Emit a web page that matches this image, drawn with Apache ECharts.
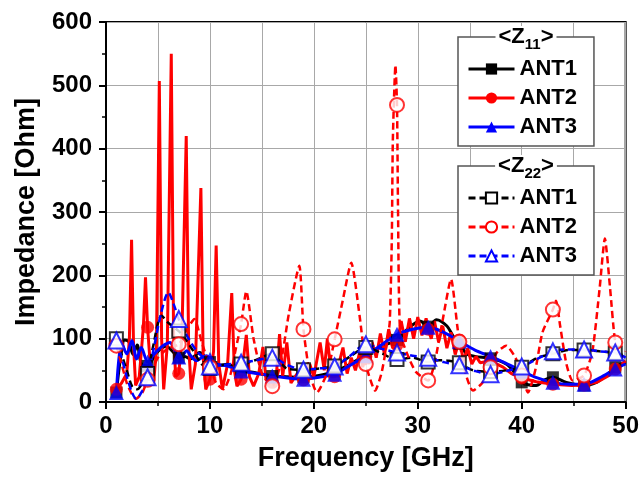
<!DOCTYPE html>
<html>
<head>
<meta charset="utf-8">
<script src="https://cdn.jsdelivr.net/npm/echarts@6/dist/echarts.min.js"></script>
<style>
  html, body { margin: 0; padding: 0; background: #fff; }
  #chart { width: 642px; height: 477px; }
</style>
</head>
<body>
<div id="chart"></div>
<script>
// marker frequencies (GHz), every 3 GHz
const markerX = [1, 4, 7, 10, 13, 16, 19, 22, 25, 28, 31, 34, 37, 40, 43, 46, 49]

// <Z11> curves [GHz, Ohm]
const z11Ant1 = [
  [1, 15], [1.4, 70], [1.8, 98], [2.2, 95], [2.6, 75], [3.0, 90], [3.4, 60], [4, 57], [4.5, 68],
  [5, 80], [5.8, 88], [6.4, 80], [7, 70], [7.6, 72], [8.1, 68], [9, 78], [10, 63], [11, 58],
  [12, 58], [13, 50], [14.5, 46], [16, 41], [17.4, 40], [19, 39], [20.5, 42], [22, 48],
  [23.5, 60], [25, 75], [26.5, 88], [28, 98], [29, 115], [30.2, 128], [31, 119], [31.8, 130],
  [32.8, 120], [33.4, 104], [34, 92], [34.7, 76], [35.5, 72], [37, 69], [38.5, 60], [39.4, 45],
  [40, 31], [41.4, 26], [42.2, 35], [43, 39], [44.3, 31], [46, 26], [47.2, 31], [48, 40],
  [49, 55], [50, 63],
]
const z11Ant2 = [
  [1, 20], [1.5, 30], [2, 45], [2.25, 100], [2.46, 256], [2.65, 90], [2.85, 26], [3.2, 40],
  [3.6, 120], [3.8, 197], [4, 118], [4.3, 50], [4.55, 26], [4.85, 80], [5.13, 507], [5.35, 100],
  [5.55, 20], [5.9, 90], [6.28, 550], [6.5, 110], [6.7, 40], [7, 45], [7.3, 100], [7.72, 420],
  [7.95, 90], [8.2, 20], [8.6, 60], [9.13, 338], [9.35, 70], [9.6, 20], [10, 36], [10.35, 80],
  [10.6, 247], [10.85, 60], [11.2, 20], [11.7, 60], [12.1, 172], [12.35, 50], [12.6, 25],
  [13, 36], [13.5, 106], [13.8, 40], [14.2, 25], [14.7, 45], [15.1, 87], [15.4, 35], [16, 31],
  [16.4, 45], [16.7, 107], [17, 40], [17.4, 94], [17.8, 30], [18.4, 45], [19, 35], [19.6, 60],
  [20, 40], [20.6, 94], [21, 50], [21.3, 100], [21.7, 40], [22, 40], [22.4, 60], [22.8, 86],
  [23.2, 45], [23.6, 70], [24, 50], [24.4, 78], [24.7, 55], [25, 72], [25.3, 60], [25.6, 95],
  [26, 70], [26.4, 108], [26.8, 75], [27.2, 115], [27.6, 85], [28, 90], [28.4, 128], [28.8, 95],
  [29.2, 132], [29.6, 100], [30, 134], [30.4, 105], [30.8, 132], [31, 115], [31.3, 100],
  [31.6, 128], [32, 95], [32.4, 120], [32.8, 85], [33.2, 110], [33.6, 75], [34, 98], [34.4, 65],
  [34.8, 85], [35.2, 60], [35.6, 72], [36, 62], [37, 65], [38.2, 55], [39, 45], [40, 38],
  [41.4, 32], [43, 28], [44.8, 26], [46, 27], [47.2, 31], [48.4, 42], [49, 52], [50, 65],
]
const z11Ant3 = [
  [1, 15], [1.5, 94], [2, 76], [2.5, 97], [2.95, 68], [3.4, 86], [4, 63], [4.6, 75], [5.2, 85],
  [5.7, 91], [6.15, 94], [6.6, 82], [7, 71], [7.4, 74], [7.75, 81], [8.2, 72], [8.7, 65],
  [9.2, 70], [9.7, 73], [10, 67], [10.6, 60], [11.6, 57], [13, 49], [14.5, 45], [16, 41],
  [17.5, 38], [19, 36], [20.5, 39], [22, 44], [23.5, 58], [25, 73], [26.5, 90], [28, 107],
  [29.5, 115], [31, 118], [32.5, 110], [34, 96], [35.5, 82], [37, 72], [38.5, 61], [40, 49],
  [41.5, 38], [43, 31], [44.5, 28], [46, 28], [47.5, 38], [49, 52], [50, 60],
]

// <Z22> curves [GHz, Ohm]
const z22Ant1 = [
  [1, 100], [1.5, 75], [2, 50], [2.5, 25], [3, 20], [3.5, 30], [4, 45], [4.5, 85], [5.35, 136],
  [6, 125], [7, 112], [7.6, 100], [8.5, 78], [9.2, 60], [10, 53], [11, 58], [12, 60], [13, 60],
  [14.5, 67], [16, 76], [16.8, 62], [17.5, 52], [19, 51], [20.5, 53], [22, 57], [23.5, 72],
  [25, 86], [26.5, 77], [28, 67], [29.5, 70], [31, 63], [32, 66], [33, 65], [34, 62], [35.3, 50],
  [37, 48], [38.5, 50], [40, 55], [41.5, 70], [43, 76], [44.5, 82], [46, 82], [47.5, 80],
  [49, 77], [50, 73],
]
const z22Ant2 = [
  [1, 89], [1.5, 60], [2, 30], [2.5, 12], [2.9, 5], [3.5, 15], [4, 35], [5, 70], [6, 85], [7, 91],
  [7.8, 115], [8.5, 131], [9.2, 95], [10, 55], [10.6, 30], [11.3, 20], [12, 45], [12.5, 85],
  [13, 123], [13.5, 175], [14.2, 100], [15, 45], [16, 25], [16.8, 60], [17.6, 140], [18.6, 215],
  [19, 115], [19.6, 45], [20.3, 15], [21.3, 47], [22, 99], [22.8, 162], [23.6, 220], [24.4, 136],
  [25, 60], [25.9, 18], [26.5, 45], [27, 90], [27.3, 126], [27.5, 257], [27.6, 414], [27.85, 532],
  [28, 469], [28.1, 300], [28.3, 110], [29, 75], [29.8, 48], [31, 34], [31.6, 60], [32.4, 130],
  [33.2, 194], [33.8, 120], [34, 95], [34.6, 45], [35.3, 18], [36.2, 30], [37, 55], [37.6, 78],
  [38.5, 89], [39.4, 70], [40, 42], [40.6, 15], [41.3, 50], [42, 110], [43, 146], [43.3, 160],
  [43.7, 120], [44.3, 60], [44.9, 34], [46, 42], [46.8, 80], [47.5, 180], [48, 258], [48.5, 180],
  [49, 94], [49.6, 70], [50, 80],
]
const z22Ant3 = [
  [1, 97], [1.5, 70], [2, 40], [2.5, 15], [2.9, 5], [3.5, 18], [4, 39], [4.6, 85], [5.3, 140],
  [6, 173], [6.5, 155], [7, 131], [7.6, 110], [8.7, 81], [9.7, 65], [10, 56], [11, 58], [12, 60],
  [13, 62], [14.2, 65], [16, 70], [17.5, 58], [19, 51], [20.5, 53], [22, 56], [23.5, 73],
  [25, 91], [26.5, 84], [28, 78], [29.5, 73], [31, 70], [32.5, 63], [34, 58], [35.5, 49],
  [37, 44], [38.5, 49], [40, 56], [41.5, 68], [43, 80], [44.5, 83], [46, 83], [47.5, 80],
  [49, 78], [50, 70],
]

const FONT = '"Liberation Sans", Arial, sans-serif'
const pick = (arr) => arr.filter((p) => markerX.includes(p[0]))

const lineSeries = (name, data, color, dashed, symbol, smooth) => ({
  name,
  type: 'line',
  data,
  smooth,
  symbol,
  symbolSize: 12,
  showSymbol: false,
  color,
  lineStyle: {
    color,
    width: dashed ? 2.5 : 3,
    type: dashed ? [7, 4] : 'solid',
  },
  z: 2,
  animation: false,
})

const markerSeries = (data, color, symbol, size, open) => ({
  type: 'scatter',
  data: pick(data),
  symbol,
  symbolSize: size,
  itemStyle: open
    ? { color: '#fff', borderColor: color, borderWidth: 2 }
    : { color, borderColor: color, borderWidth: 0 },
  z: 3,
  silent: true,
  animation: false,
})

const legendBase = {
  orient: 'vertical',
  left: 458,
  itemWidth: 46,
  itemHeight: 14,
  itemGap: 7,
  padding: [21, 17, 8, 9],
  backgroundColor: '#fff',
  borderColor: '#555',
  borderWidth: 1.5,
  borderRadius: 0,
  selectedMode: false,
  lineStyle: { width: 3 },
  formatter: (name) => name.slice(4),
  textStyle: { fontSize: 22, fontWeight: 'bold', color: '#000', fontFamily: FONT },
  z: 5,
}

const titleText = (txt, y) => ({
  type: 'text',
  x: 526,
  y,
  z: 10,
  style: {
    text: '{a|<Z}{b|' + txt + '}{a|>}',
    align: 'center',
    verticalAlign: 'middle',
    backgroundColor: '#fff',
    padding: [0, 3],
    rich: {
      a: { fontSize: 22, fontWeight: 'bold', fontFamily: FONT, color: '#000', lineHeight: 24, verticalAlign: 'top' },
      b: { fontSize: 15, fontWeight: 'bold', fontFamily: FONT, color: '#000', lineHeight: 15, padding: [11, 0, 0, 0], verticalAlign: 'top' },
    },
  },
})

const chart = echarts.init(document.getElementById('chart'))
chart.setOption({
  animation: false,
  backgroundColor: '#fff',
  grid: {
    left: 106,
    right: 16,
    top: 22,
    bottom: 74,
    show: true,
    borderColor: '#000',
    borderWidth: 2,
  },
  xAxis: {
    type: 'value',
    min: 0,
    max: 50,
    interval: 10,
    name: 'Frequency [GHz]',
    nameLocation: 'middle',
    nameGap: 43,
    nameTextStyle: { fontSize: 27, fontWeight: 'bold', color: '#000', fontFamily: FONT },
    axisLine: { lineStyle: { color: '#000', width: 2 } },
    axisTick: { length: 7, lineStyle: { color: '#000', width: 2 } },
    minorTick: { show: true, splitNumber: 2, length: 4, lineStyle: { color: '#000', width: 1.5 } },
    splitLine: { show: true, lineStyle: { color: '#a8a8a8', width: 1 } },
    minorSplitLine: { show: true, lineStyle: { color: '#a8a8a8', width: 1 } },
    axisLabel: { fontSize: 24, fontWeight: 'bold', color: '#000', fontFamily: FONT, margin: 12 },
  },
  yAxis: {
    type: 'value',
    min: 0,
    max: 600,
    interval: 100,
    name: 'Impedance [Ohm]',
    nameLocation: 'middle',
    nameGap: 66,
    nameTextStyle: { fontSize: 27, fontWeight: 'bold', color: '#000', fontFamily: FONT },
    axisLine: { show: true, lineStyle: { color: '#000', width: 2 } },
    axisTick: { show: true, length: 7, lineStyle: { color: '#000', width: 2 } },
    minorTick: { show: true, splitNumber: 2, length: 4, lineStyle: { color: '#000', width: 1.5 } },
    splitLine: { show: true, lineStyle: { color: '#a8a8a8', width: 1 } },
    axisLabel: { fontSize: 24, fontWeight: 'bold', color: '#000', fontFamily: FONT, margin: 14 },
  },
  legend: [
    Object.assign({}, legendBase, { top: 37, data: ['Z11 ANT1', 'Z11 ANT2', 'Z11 ANT3'] }),
    Object.assign({}, legendBase, { top: 166, data: ['Z22 ANT1', 'Z22 ANT2', 'Z22 ANT3'] }),
  ],
  graphic: [titleText('11', 38), titleText('22', 167)],
  series: [
    lineSeries('Z11 ANT1', z11Ant1, '#000000', false, 'rect', 0.3),
    lineSeries('Z11 ANT2', z11Ant2, '#ff0000', false, 'circle', false),
    lineSeries('Z11 ANT3', z11Ant3, '#0000ff', false, 'triangle', 0.3),
    lineSeries('Z22 ANT1', z22Ant1, '#000000', true, 'emptyRect', 0.3),
    lineSeries('Z22 ANT2', z22Ant2, '#ff0000', true, 'emptyCircle', 0.2),
    lineSeries('Z22 ANT3', z22Ant3, '#0000ff', true, 'emptyTriangle', 0.3),
    markerSeries(z11Ant1, '#000000', 'rect', 12, false),
    markerSeries(z11Ant2, '#ff0000', 'circle', 13, false),
    markerSeries(z11Ant3, '#0000ff', 'triangle', 15, false),
    markerSeries(z22Ant1, '#000000', 'rect', 13, true),
    markerSeries(z22Ant2, '#ff0000', 'circle', 14, true),
    markerSeries(z22Ant3, '#0000ff', 'triangle', 16, true),
  ],
})
</script>
</body>
</html>
